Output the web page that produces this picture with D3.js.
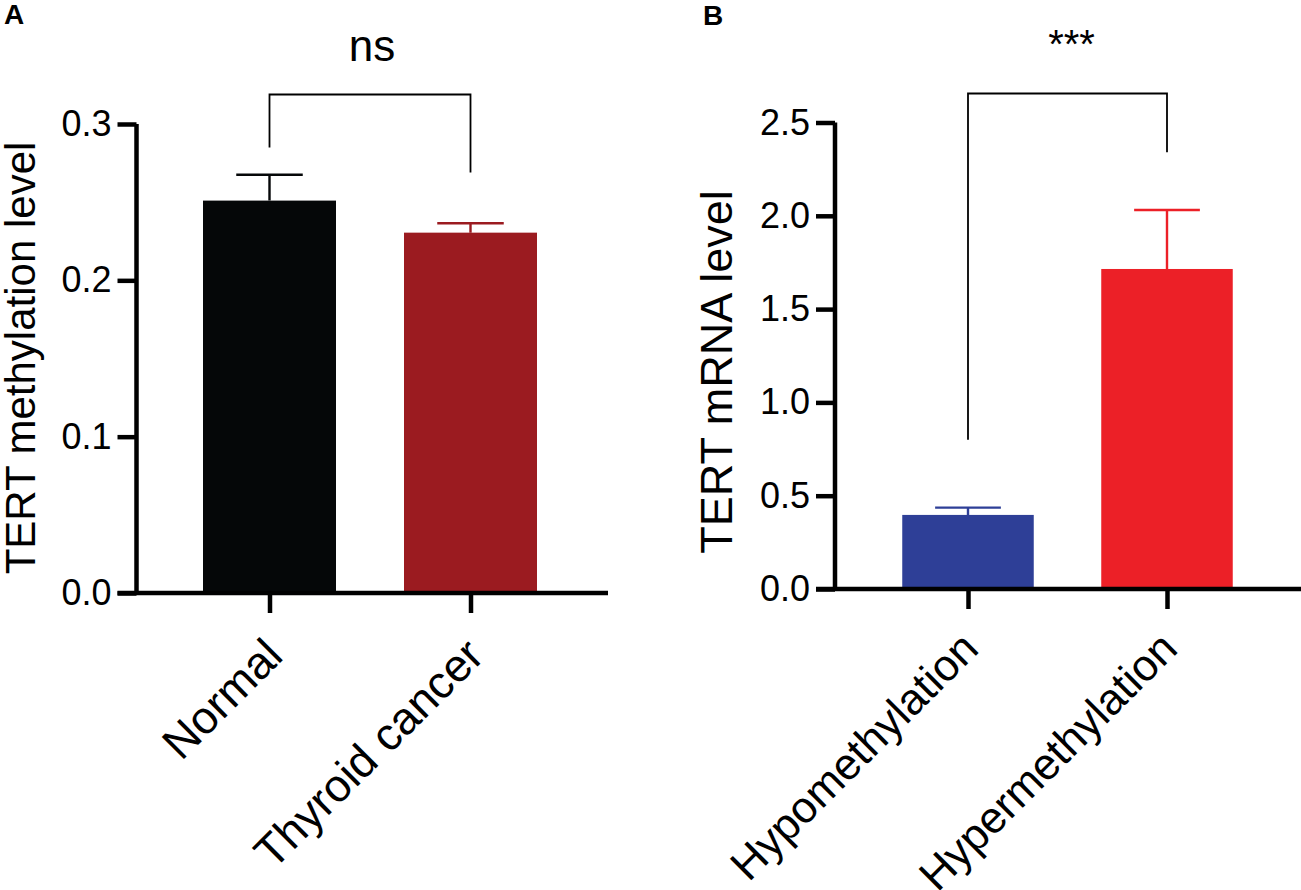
<!DOCTYPE html>
<html lang="en">

<head>
    <script src="https://d3js.org/d3.v7.min.js"></script>
    <style>
        body {
            margin: 0;
            background: #fff;
            font-family: "Liberation Sans", Arial, sans-serif;
        }
    </style>
</head>

<body>
    <div id="chart"></div>
    <script>
        // panel A data
        var groupsA = ["Normal", "Thyroid cancer"];
        var meansA = [0.251, 0.2305];
        var errorsA = [0.0165, 0.006];
        var colorsA = ["#050708", "#9b1b20"];
        var ticksA = [0.0, 0.1, 0.2, 0.3];

        // panel B data
        var groupsB = ["Hypomethylation", "Hypermethylation"];
        var meansB = [0.397, 1.715];
        var errorsB = [0.039, 0.316];
        var colorsB = ["#2e3f97", "#ec2027"];
        var ticksB = [0.0, 0.5, 1.0, 1.5, 2.0, 2.5];

        var svg = d3.select("#chart")
            .append("svg")
            .attr("width", 1301)
            .attr("height", 890);

        // one GraphPad-like bar panel
        function panel(opt) {
            var g = svg.append("g");

            var y = d3.scaleLinear()
                .domain([0, opt.ymax])
                .range([opt.y0, opt.y1]);

            var x = d3.scalePoint()
                .domain(opt.groups)
                .range(opt.xr);

            // bars
            g.selectAll(".bar")
                .data(opt.groups)
                .enter()
                .append("rect")
                .attr("x", function(d) { return x(d) - opt.bw / 2; })
                .attr("width", opt.bw)
                .attr("y", function(d, i) { return y(opt.means[i]); })
                .attr("height", function(d, i) { return y(0) - y(opt.means[i]); })
                .attr("fill", function(d, i) { return opt.colors[i]; });

            // error bars (upper only)
            g.selectAll(".err")
                .data(opt.groups)
                .enter()
                .append("path")
                .attr("d", function(d, i) {
                    var cx = x(d),
                        top = y(opt.means[i] + opt.errors[i]),
                        bot = y(opt.means[i]);
                    return "M" + cx + "," + bot + "V" + top +
                        "M" + (cx - opt.bw / 4) + "," + top + "H" + (cx + opt.bw / 4);
                })
                .style("fill", "none")
                .style("stroke", function(d, i) { return opt.colors[i]; })
                .style("stroke-width", "2.4px");

            // y axis
            var yAxis = g.append("g")
                .attr("transform", "translate(" + opt.xAxisLeft + ",0)")
                .call(d3.axisLeft(y).tickValues(opt.ticks).tickSize(19).tickPadding(6)
                    .tickFormat(d3.format(".1f")));
            yAxis.select(".domain").attr("d", "M0," + y(0) + "V" + y(opt.ymax));
            yAxis.selectAll("path, line")
                .style("stroke", "#000")
                .style("stroke-width", "4.5px");
            yAxis.selectAll("text")
                .style("font-family", "Liberation Sans, Arial, sans-serif")
                .style("font-size", "36px")
                .style("fill", "#000");

            // x axis
            var xAxis = g.append("g")
                .attr("transform", "translate(0," + y(0) + ")")
                .call(d3.axisBottom(x).tickSize(20).tickFormat(""));
            xAxis.select(".domain").remove();
            xAxis.selectAll("line")
                .style("stroke", "#000")
                .style("stroke-width", "4.5px");
            xAxis.append("line")
                .attr("x1", opt.xAxisLeft - 19)
                .attr("x2", opt.xEnd)
                .style("stroke", "#000")
                .style("stroke-width", "4.7px");

            xAxis.selectAll(".tick")
                .append("text")
                .attr("transform", "translate(" + opt.lab[0] + "," + opt.lab[1] + ") rotate(-45)")
                .attr("text-anchor", "end")
                .style("font-family", "Liberation Sans, Arial, sans-serif")
                .style("font-size", opt.labSize + "px")
                .style("fill", "#000")
                .text(function(d) { return d; });

            // y label
            g.append("text")
                .attr("transform", "translate(" + opt.ylabX + "," + opt.ylabY + ") rotate(-90)")
                .attr("text-anchor", "middle")
                .style("font-size", opt.ylabSize + "px")
                .style("fill", "#000")
                .text(opt.ylabel);

            // significance bracket
            var bx1 = x(opt.groups[0]),
                bx2 = x(opt.groups[1]);
            g.append("path")
                .attr("d", "M" + bx1 + "," + y(opt.leg[0]) + "V" + opt.brTop +
                    "H" + bx2 + "V" + y(opt.leg[1]))
                .style("fill", "none")
                .style("stroke", "#000")
                .style("stroke-width", "1.8px");
            g.append("text")
                .attr("x", (bx1 + bx2) / 2 + opt.sigDx)
                .attr("y", opt.sigY)
                .attr("text-anchor", "middle")
                .style("font-size", opt.sigSize + "px")
                .style("fill", "#000")
                .text(opt.sig);

            // panel letter
            g.append("text")
                .attr("x", opt.letter[0])
                .attr("y", opt.letter[1])
                .style("font-size", "28px")
                .style("font-weight", "bold")
                .style("fill", "#000")
                .text(opt.name);
        }

        panel({
            name: "A",
            letter: [4, 24],
            groups: groupsA,
            means: meansA,
            errors: errorsA,
            colors: colorsA,
            ticks: ticksA,
            ymax: 0.3,
            y0: 593,
            y1: 124,
            xr: [269.5, 470.5],
            bw: 133,
            xAxisLeft: 136.5,
            xEnd: 608,
            lab: [15, 65],
            labSize: 45.5,
            ylabel: "TERT methylation level",
            ylabSize: 42,
            ylabX: 35,
            ylabY: 358,
            leg: [0.285, 0.269],
            brTop: 94.5,
            sig: "ns",
            sigSize: 44,
            sigY: 61,
            sigDx: 2
        });

        panel({
            name: "B",
            letter: [703, 25],
            groups: groupsB,
            means: meansB,
            errors: errorsB,
            colors: colorsB,
            ticks: ticksB,
            ymax: 2.5,
            y0: 589,
            y1: 122.5,
            xr: [968, 1167],
            bw: 131.5,
            xAxisLeft: 835,
            xEnd: 1301,
            lab: [12, 62],
            labSize: 44,
            ylabel: "TERT mRNA level",
            ylabSize: 45,
            ylabX: 732,
            ylabY: 372,
            leg: [0.80, 2.34],
            brTop: 93.5,
            sig: "***",
            sigSize: 40,
            sigY: 58,
            sigDx: 4
        });
    </script>
</body>

</html>
